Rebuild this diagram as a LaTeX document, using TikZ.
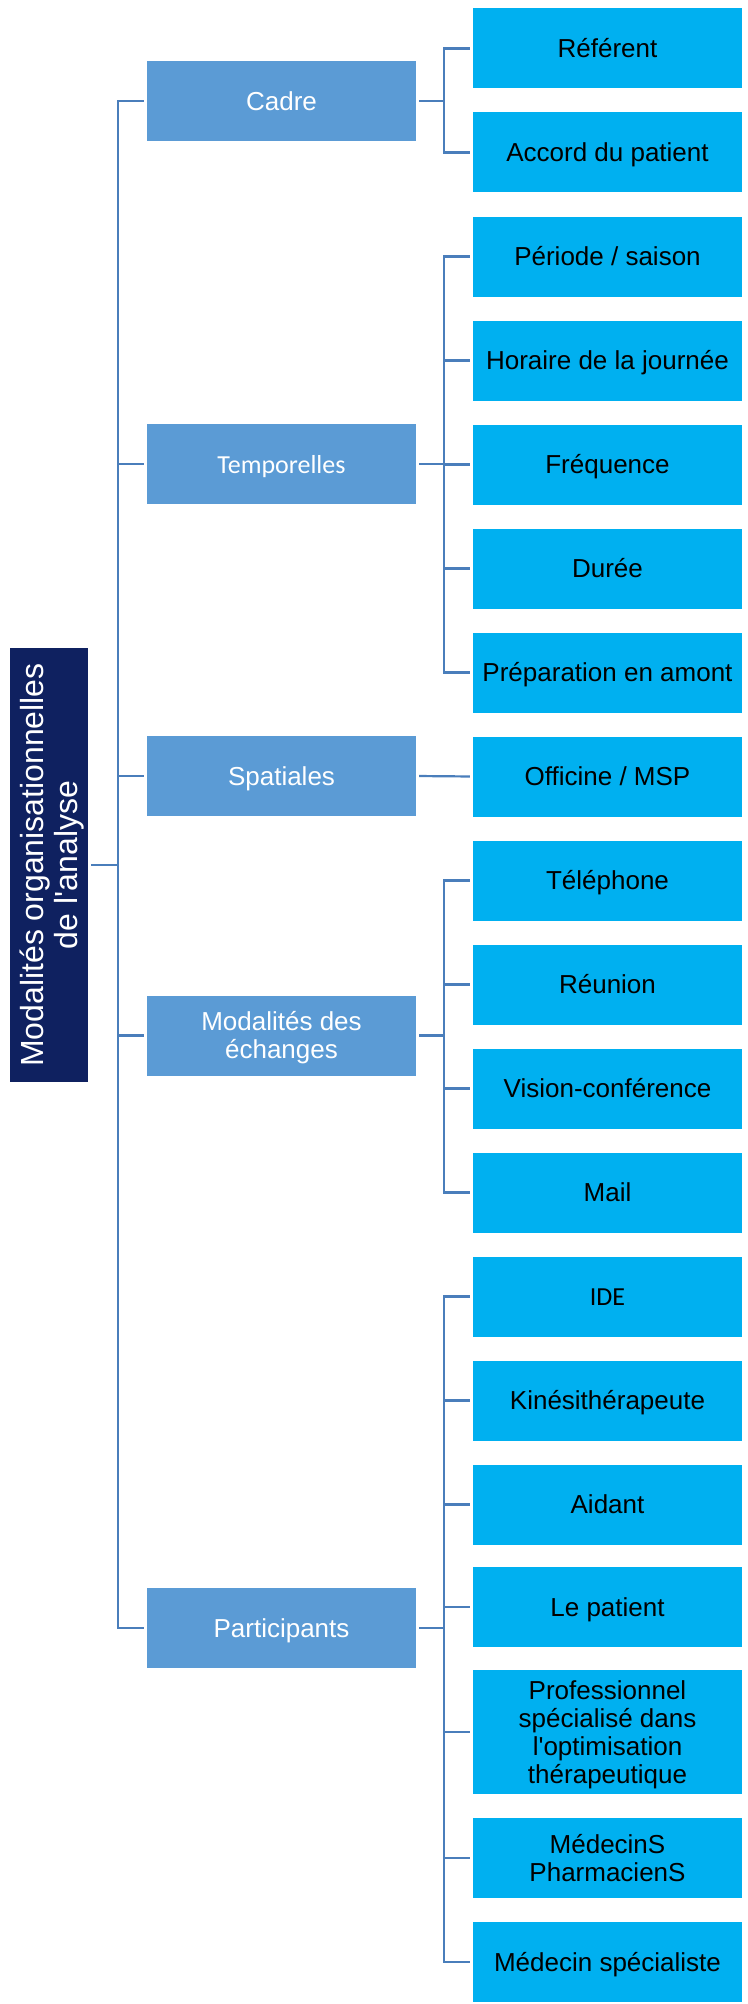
\documentclass[tikz,border=0pt]{standalone}
\usepackage{fontspec}
\setmainfont{Liberation Sans}
\newfontfamily\calfont{Carlito}
\definecolor{rootc}{HTML}{0F2160}
\definecolor{lonec}{HTML}{5B9BD5}
\definecolor{ltwoc}{HTML}{00B0F0}
\definecolor{linec}{HTML}{4A7EBB}
\tikzset{
  conn/.style={draw=linec, line width=2.2pt, shorten <=3pt, shorten >=3pt},
  rootbox/.style={fill=rootc, text=white, minimum width=434pt, minimum height=78pt,
    inner sep=0pt, rotate=90, font=\fontsize{32}{34}\selectfont, align=center,
    text height=62pt, text depth=5pt},
  boxbase/.style={minimum width=269pt, minimum height=80pt, inner sep=0pt,
    font=\fontsize{26}{28}\selectfont, align=center, text height=24pt, text depth=5.4pt},
  lonebox/.style={boxbase, fill=lonec, text=white},
  ltwobox/.style={boxbase, fill=ltwoc, text=black},
  twolines/.style={text height=52pt, text depth=5.4pt},
  fourlines/.style={text height=108pt, text depth=5.4pt, minimum height=124pt},
}
\begin{document}
\begin{tikzpicture}[x=1pt, y=-1pt]
\useasboundingbox (0,0) rectangle (747,2004);
% root
\node[rootbox] (root) at (49,865) {Modalités organisationnelles\\de l\textquotesingle analyse};
% level 1
\node[lonebox] (cadre) at (281.5,101) {Cadre};
\node[lonebox, font=\calfont\fontsize{26}{28}\selectfont] (temp) at (281.5,464) {Temporelles};
\node[lonebox] (spat) at (281.5,776) {Spatiales};
\node[lonebox, twolines] (moda) at (281.5,1035.5) {Modalités des\\échanges};
\node[lonebox] (part) at (281.5,1628) {Participants};
% level 2
\node[ltwobox] (ref) at (607.5,48.5) {Référent};
\node[ltwobox] (acc) at (607.5,152.5) {Accord du patient};
\node[ltwobox] (per) at (607.5,256.5) {Période / saison};
\node[ltwobox] (hor) at (607.5,360.5) {Horaire de la journée};
\node[ltwobox] (freq) at (607.5,464.5) {Fréquence};
\node[ltwobox] (dur) at (607.5,568.5) {Durée};
\node[ltwobox] (prep) at (607.5,672.5) {Préparation en amont};
\node[ltwobox] (off) at (607.5,776.5) {Officine / MSP};
\node[ltwobox] (tel) at (607.5,880.5) {Téléphone};
\node[ltwobox] (reu) at (607.5,984.5) {Réunion};
\node[ltwobox] (vis) at (607.5,1088.5) {Vision-conférence};
\node[ltwobox] (mail) at (607.5,1192.5) {Mail};
\node[ltwobox, font=\calfont\fontsize{26}{28}\selectfont] (ide) at (607.5,1296.5) {IDE};
\node[ltwobox] (kine) at (607.5,1400.5) {Kinésithérapeute};
\node[ltwobox] (aid) at (607.5,1504.5) {Aidant};
\node[ltwobox] (pat) at (607.5,1607) {Le patient};
\node[ltwobox, fourlines] (pro) at (607.5,1732) {Professionnel\\spécialisé dans\\l\textquotesingle optimisation\\thérapeutique};
\node[ltwobox, twolines] (med) at (607.5,1858) {MédecinS\\PharmacienS};
\node[ltwobox] (spec) at (607.5,1962) {Médecin spécialiste};
% connectors root -> level 1
\foreach \c in {cadre,temp,spat,moda,part}
  \draw[conn] (root.south) -- ++(30,0) |- (\c.west);
% level 1 -> level 2
\foreach \c in {ref,acc}
  \draw[conn] (cadre.east) -- ++(28,0) |- (\c.west);
\foreach \c in {per,hor,freq,dur,prep}
  \draw[conn] (temp.east) -- ++(28,0) |- (\c.west);
\draw[conn] (spat.east) -- (off.west);
\foreach \c in {tel,reu,vis,mail}
  \draw[conn] (moda.east) -- ++(28,0) |- (\c.west);
\foreach \c in {ide,kine,aid,pat,pro,med,spec}
  \draw[conn] (part.east) -- ++(28,0) |- (\c.west);
\end{tikzpicture}
\end{document}
